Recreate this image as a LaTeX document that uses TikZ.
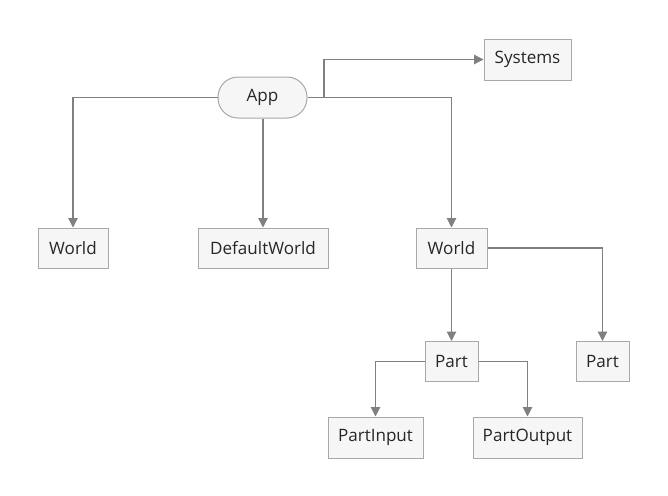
\documentclass[tikz,border=0pt]{standalone}
\usepackage{fontspec}
\setmainfont{Open Sans}
\usetikzlibrary{arrows.meta,positioning}
\definecolor{linec}{HTML}{808080}
\definecolor{boxfill}{HTML}{F6F6F6}
\definecolor{boxdraw}{HTML}{A8A8A8}
\tikzset{
  px/.style={x=0.75pt,y=-0.75pt},
  box/.style={draw=boxdraw,fill=boxfill,line width=0.75pt,inner sep=0pt,font=\fontsize{12.8}{14}\selectfont,text=black!85},
  pill/.style={box,rounded corners=15pt},
  conn/.style={draw=linec,line width=0.8pt,-{Triangle[length=7pt,width=7pt]}},
  plain/.style={draw=linec,line width=0.8pt}
}
\begin{document}
\begin{tikzpicture}[px]
\useasboundingbox (0,0) rectangle (668,496);
\node[pill,minimum width=66.75pt,minimum height=30.75pt] (app) at (262.5,97.5) {App};
\node[box,minimum width=65.25pt,minimum height=30.75pt] (sys) at (527.5,59.5) {Systems};
\node[box,minimum width=52.5pt,minimum height=30pt] (w1) at (73,248) {World};
\node[box,minimum width=97.5pt,minimum height=30pt] (dw) at (263,248) {DefaultWorld};
\node[box,minimum width=53.25pt,minimum height=30pt] (w2) at (451.5,248) {World};
\node[box,minimum width=39.75pt,minimum height=30pt] (p1) at (451.5,361.5) {Part};
\node[box,minimum width=39.75pt,minimum height=30pt] (p2) at (602.5,361.5) {Part};
\node[box,minimum width=71.25pt,minimum height=30.75pt] (pin) at (375.5,437.5) {PartInput};
\node[box,minimum width=81.75pt,minimum height=30.75pt] (pout) at (527.5,437.5) {PartOutput};
\coordinate (br) at (324,97.5);
\draw[conn] (app.west) -| (w1.north);
\draw[conn] (app.south -| dw.north) -- (dw.north);
\draw[conn] (app.east) -| (w2.north);
\draw[conn] (br) |- (sys.west);
\draw[conn] (w2.south) -- (p1.north);
\draw[conn] (w2.east) -| (p2.north);
\draw[conn] (p1.west) -| (pin.north);
\draw[conn] (p1.east) -| (pout.north);
\end{tikzpicture}
\end{document}
